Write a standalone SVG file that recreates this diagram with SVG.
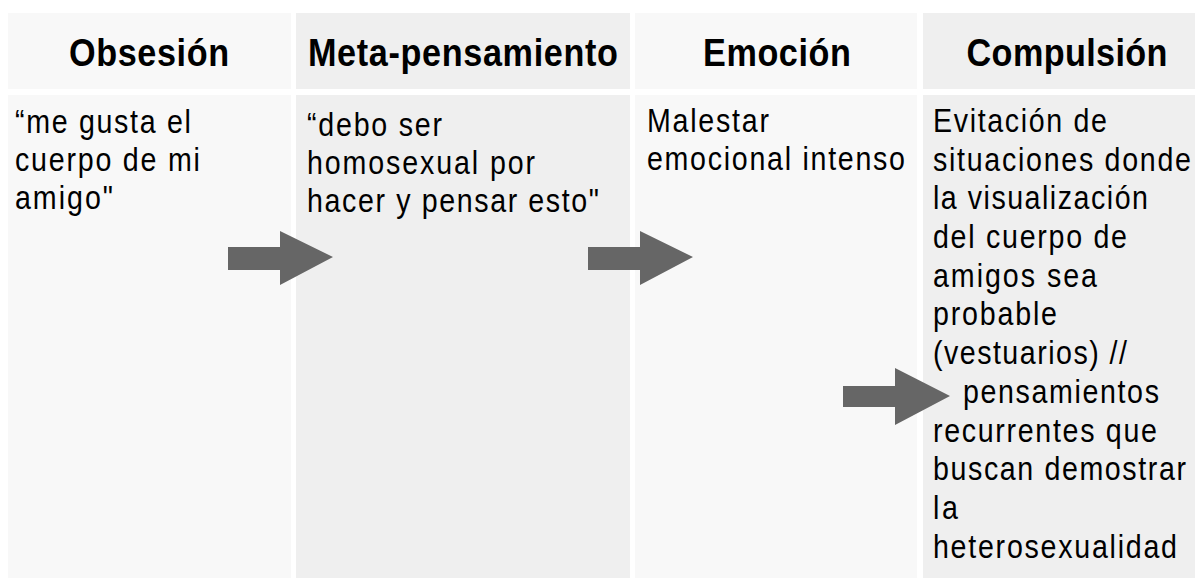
<svg xmlns="http://www.w3.org/2000/svg" width="1195" height="578" viewBox="0 0 1195 578">
<style>
.light{fill:#f8f8f8}
.dark{fill:#efefef}
.hd{font-family:"Liberation Sans",Arial,sans-serif;font-weight:bold;font-size:38px;fill:#000;text-anchor:middle}
.bd{font-family:"Liberation Sans",Arial,sans-serif;font-size:32.5px;fill:#000}
.arrow{fill:#666666}
</style>
<rect width="1195" height="578" fill="#ffffff"/>
<g id="col-obsesion">
<rect class="light" x="8" y="13" width="283" height="76"/>
<rect class="light" x="8" y="95" width="283" height="483"/>
<text class="hd" transform="scale(0.9 1)" x="165.6" y="66" textLength="177.8">Obsesión</text>
<g transform="scale(0.88 1)">
<text class="bd" x="17" y="133" textLength="200">“me gusta el</text>
<text class="bd" x="17" y="171" textLength="210.2">cuerpo de mi</text>
<text class="bd" x="17" y="209" textLength="111.4">amigo"</text>
</g>
</g>
<g id="col-metapensamiento">
<rect class="dark" x="296" y="13" width="334" height="76"/>
<rect class="dark" x="296" y="95" width="334" height="483"/>
<text class="hd" transform="scale(0.9 1)" x="514.4" y="66" textLength="344.4">Meta-pensamiento</text>
<g transform="scale(0.88 1)">
<text class="bd" x="348.9" y="136" textLength="153.4">“debo ser</text>
<text class="bd" x="348.9" y="174" textLength="259.1">homosexual por</text>
<text class="bd" x="348.9" y="212" textLength="331.8">hacer y pensar esto"</text>
</g>
</g>
<g id="col-emocion">
<rect class="light" x="635" y="13" width="282" height="76"/>
<rect class="light" x="635" y="95" width="282" height="483"/>
<text class="hd" transform="scale(0.9 1)" x="863.3" y="66" textLength="164.4">Emoción</text>
<g transform="scale(0.88 1)">
<text class="bd" x="735.2" y="132" textLength="138.6">Malestar</text>
<text class="bd" x="735.2" y="170" textLength="293.2">emocional intenso</text>
</g>
</g>
<g id="col-compulsion">
<rect class="dark" x="923" y="13" width="272" height="76"/>
<rect class="dark" x="923" y="95" width="272" height="483"/>
<text class="hd" transform="scale(0.9 1)" x="1185.6" y="66" textLength="223.3">Compulsión</text>
<g transform="scale(0.88 1)">
<text class="bd" x="1060.2" y="132" textLength="197.7">Evitación de</text>
<text class="bd" x="1060.2" y="170.7" textLength="293.2">situaciones donde</text>
<text class="bd" x="1060.2" y="209.4" textLength="244.3">la visualización</text>
<text class="bd" x="1060.2" y="248.1" textLength="220.5">del cuerpo de</text>
<text class="bd" x="1060.2" y="286.8" textLength="186.4">amigos sea</text>
<text class="bd" x="1060.2" y="325.5" textLength="140.9">probable</text>
<text class="bd" x="1060.2" y="364.2" textLength="220.5">(vestuarios) //</text>
<text class="bd" x="1094.3" y="402.9" textLength="222.7">pensamientos</text>
<text class="bd" x="1060.2" y="441.6" textLength="254.5">recurrentes que</text>
<text class="bd" x="1060.2" y="480.3" textLength="287.5">buscan demostrar</text>
<text class="bd" x="1060.2" y="519" textLength="28.4">la</text>
<text class="bd" x="1060.2" y="557.7" textLength="277.3">heterosexualidad</text>
</g>
</g>
<g id="connectors">
<polygon class="arrow" points="228,247 280,247 280,231 333,257 280,285 280,270 228,270"/>
<polygon class="arrow" points="588,247 640,247 640,231 693,257 640,285 640,270 588,270"/>
<polygon class="arrow" points="843,386 895,386 895,368 950,396 895,425 895,407 843,407"/>
</g>
</svg>
